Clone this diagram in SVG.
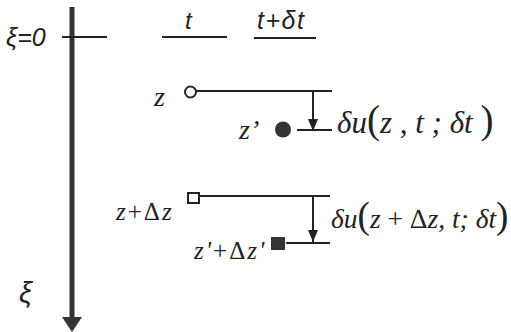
<svg xmlns="http://www.w3.org/2000/svg" width="511" height="332" viewBox="0 0 511 332">
<style>
.ln{stroke:#222;stroke-width:2;fill:none}
text{fill:#222;font-style:italic}
.up{font-style:normal}
</style>
<defs>
<marker id="ah" markerWidth="10" markerHeight="12" refX="12" refY="5" orient="auto" markerUnits="userSpaceOnUse">
<path d="M0,0 L12,5 L0,10 Z" fill="#222"/>
</marker>
</defs>
<rect width="511" height="332" fill="#fff"/>
<g id="axis">
<line x1="72" y1="7" x2="72" y2="318" stroke="#333" stroke-width="5"/>
<path d="M62,317 L82,317 L72,332 Z" fill="#333"/>
<line x1="62" y1="37" x2="107" y2="37" class="ln"/>
<text x="6" y="46" font-family="Liberation Sans, Arial, sans-serif" font-size="25">ξ=0</text>
<text x="19" y="303" font-family="Liberation Sans, Arial, sans-serif" font-size="29">ξ</text>
</g>
<g id="header">
<text x="185" y="29" font-family="Liberation Sans, Arial, sans-serif" font-size="24">t</text>
<line x1="162" y1="37" x2="227" y2="37" class="ln"/>
<text x="257" y="29" font-family="Liberation Sans, Arial, sans-serif" font-size="25" letter-spacing="1.5">t+δt</text>
<line x1="254" y1="38" x2="316" y2="38" class="ln"/>
</g>
<g id="node-z">
<text x="154" y="106" font-family="Liberation Serif, Times New Roman, serif" font-size="28">z</text>
<circle cx="190.5" cy="92" r="5.5" fill="#fff" stroke="#222" stroke-width="2"/>
</g>
<g id="node-zp">
<text x="239" y="139" font-family="Liberation Serif, Times New Roman, serif" font-size="28">z’</text>
<circle cx="283" cy="129.5" r="8" fill="#333"/>
</g>
<g id="node-zdz">
<text x="116" y="220" font-family="Liberation Serif, Times New Roman, serif" font-size="25" letter-spacing="2">z<tspan class="up">+Δ</tspan>z</text>
<rect x="188" y="193" width="11" height="10" fill="#fff" stroke="#222" stroke-width="2"/>
</g>
<g id="node-zpdzp">
<text x="194" y="259" font-family="Liberation Serif, Times New Roman, serif" font-size="25" letter-spacing="2">z'<tspan class="up">+Δ</tspan>z'</text>
<rect x="271" y="237" width="14" height="13" fill="#333"/>
</g>
<g id="connectors">
<line x1="196" y1="91" x2="332" y2="91" class="ln"/>
<line x1="297" y1="130" x2="332" y2="130" class="ln"/>
<line x1="313" y1="91" x2="313" y2="131" class="ln" marker-end="url(#ah)"/>
<line x1="200" y1="196" x2="330" y2="196" class="ln"/>
<line x1="286" y1="243" x2="330" y2="243" class="ln"/>
<line x1="313" y1="196" x2="313" y2="242" class="ln" marker-end="url(#ah)"/>
</g>
<g id="labels">
<text x="337" y="133" font-family="Liberation Serif, Times New Roman, serif" font-size="31">δu<tspan class="up" font-size="39">(</tspan>z , t ; δt <tspan class="up" font-size="39">)</tspan></text>
<text x="331" y="228" font-family="Liberation Serif, Times New Roman, serif" font-size="27.5">δu<tspan class="up" font-size="37">(</tspan>z <tspan class="up">+ Δ</tspan>z, t; δt<tspan class="up" font-size="37">)</tspan></text>
</g>
</svg>
